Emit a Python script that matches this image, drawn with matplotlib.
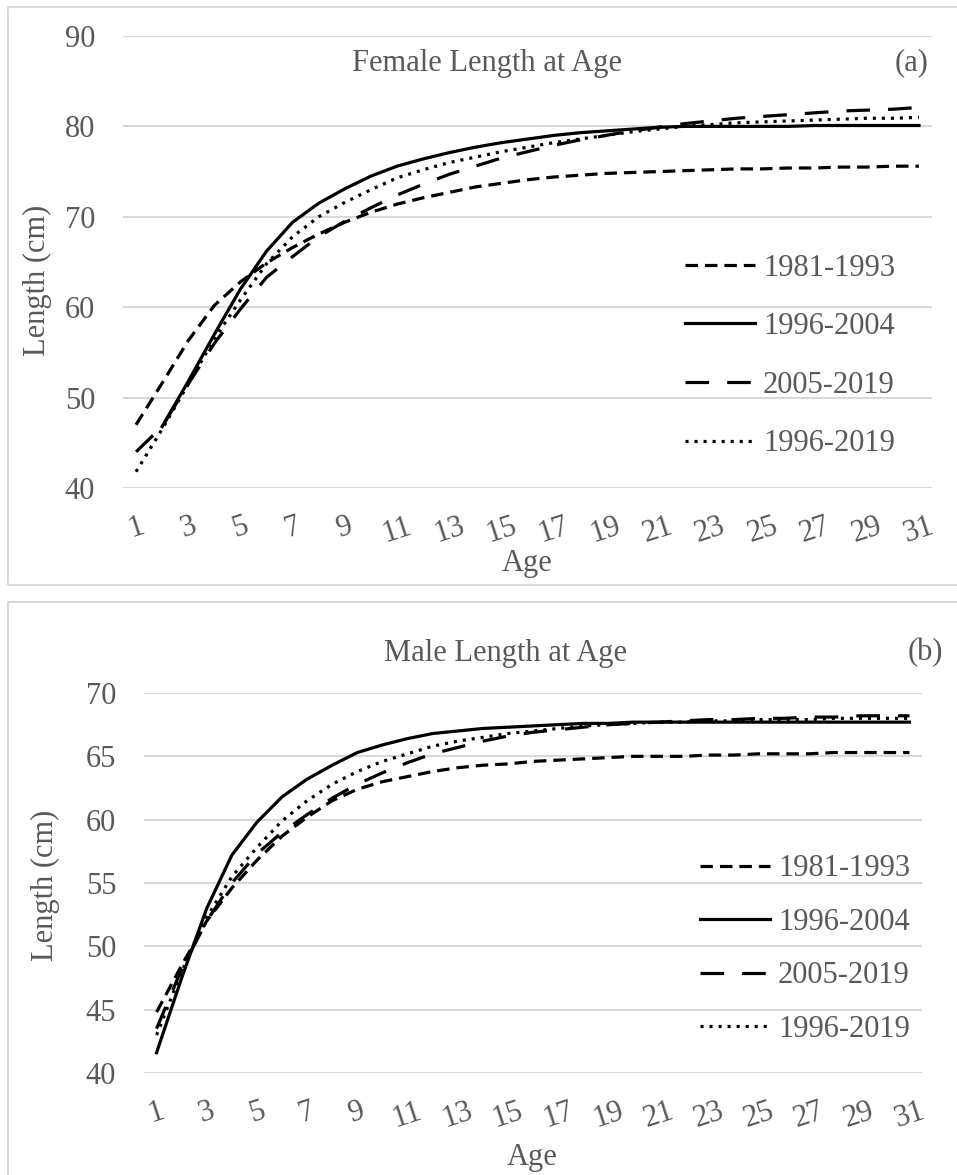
import numpy as np
import matplotlib
matplotlib.use('Agg')
import matplotlib.pyplot as plt
from matplotlib.patches import Rectangle

# Length at age curves
ages = list(range(1, 32))
series_labels = ['1981-1993', '1996-2004', '2005-2019', '1996-2019']

female_1981_1993 = [47.0, 51.6, 56.3, 60.2, 62.8, 64.9, 66.6, 68.1, 69.4, 70.5, 71.4, 72.1, 72.7, 73.3,
                    73.7, 74.1, 74.4, 74.6, 74.8, 74.9, 75.0, 75.1, 75.2, 75.3, 75.3, 75.4, 75.4, 75.5,
                    75.5, 75.6, 75.6]
female_1996_2004 = [np.nan, 46.8, 51.8, 57.0, 62.0, 66.2, 69.4, 71.5, 73.1, 74.5, 75.6, 76.4, 77.1, 77.7,
                    78.2, 78.6, 79.0, 79.3, 79.5, 79.7, 79.9, 80.0, 80.0, 80.0, 80.0, 80.0, 80.1, 80.1,
                    80.1, 80.1, 80.1]
female_2005_2019 = [44.0, 46.8, 51.5, 56.0, 59.8, 63.3, 65.6, 67.8, 69.5, 71.0, 72.4, 73.6, 74.7, 75.6,
                    76.5, 77.2, 77.9, 78.5, 79.0, 79.5, 79.9, 80.3, 80.6, 80.9, 81.1, 81.3, 81.5, 81.7,
                    81.8, 81.9, 82.1]
female_1996_2019 = [41.8, 46.5, 51.5, 56.5, 60.8, 64.8, 67.8, 70.0, 71.6, 73.0, 74.3, 75.2, 76.0, 76.6,
                    77.2, 77.7, 78.2, 78.6, 79.0, 79.4, 79.7, 80.0, 80.2, 80.4, 80.5, 80.6, 80.7, 80.8,
                    80.9, 80.9, 81.0]

male_1981_1993 = [44.8, 48.5, 52.0, 54.6, 56.8, 58.7, 60.2, 61.5, 62.4, 63.0, 63.4, 63.8, 64.1, 64.3,
                  64.4, 64.6, 64.7, 64.8, 64.9, 65.0, 65.0, 65.0, 65.1, 65.1, 65.2, 65.2, 65.2, 65.3,
                  65.3, 65.3, 65.3]
male_1996_2004 = [41.6, 47.5, 53.0, 57.2, 59.8, 61.8, 63.2, 64.3, 65.3, 65.9, 66.4, 66.8, 67.0, 67.2,
                  67.3, 67.4, 67.5, 67.6, 67.6, 67.7, 67.7, 67.7, 67.7, 67.7, 67.7, 67.7, 67.7, 67.7,
                  67.7, 67.7, 67.7]
male_2005_2019 = [43.5, 48.2, 52.0, 55.0, 57.3, 59.0, 60.4, 61.7, 62.8, 63.7, 64.5, 65.2, 65.7, 66.2,
                  66.6, 66.9, 67.1, 67.3, 67.5, 67.6, 67.7, 67.8, 67.9, 67.9, 68.0, 68.0, 68.1, 68.1,
                  68.2, 68.2, 68.2]
male_1996_2019 = [43.0, 48.0, 52.3, 55.5, 57.8, 59.9, 61.5, 62.8, 63.8, 64.6, 65.2, 65.8, 66.2, 66.5,
                  66.8, 67.0, 67.2, 67.4, 67.5, 67.6, 67.7, 67.7, 67.8, 67.8, 67.9, 67.9, 67.9, 68.0,
                  68.0, 68.0, 68.0]

plt.rcParams['font.family'] = ['Liberation Serif', 'DejaVu Serif']
plt.rcParams['lines.scale_dashes'] = False

TEXT = '#595959'
GRID = '#d9d9d9'
FS = 22
W, H = 957, 1175

# line styles in the same order as series_labels
styles = [dict(ls=(0, (9, 5)), lw=2.3),
          dict(ls='-', lw=2.3),
          dict(ls=(0, (17, 13)), lw=2.3),
          dict(ls=(0, (2.2, 4.3)), lw=2.3)]

fig = plt.figure(figsize=(W / 100, H / 100), dpi=100)

# grey frames around each panel (pixel coords from the top)
fig.add_artist(Rectangle((8 / W, 1 - 585 / H), 1.0, (585 - 7) / H, transform=fig.transFigure,
                         fill=False, ec=GRID, lw=1.5))
fig.add_artist(Rectangle((8 / W, 1 - 1190 / H), 1.0, (1190 - 602) / H, transform=fig.transFigure,
                         fill=False, ec=GRID, lw=1.5))


def panel(rect, data, ylim, yticks, title, title_xy, tag, tag_xy, ylab_xy, xlab_xy, leg_xy, leg_space):
    ax = fig.add_axes(rect)
    for vals, lab, st in zip(data, series_labels, styles):
        ax.plot(ages, vals, color='black', label=lab, **st)
    ax.set_xlim(0.5, 31.5)
    ax.set_ylim(*ylim)
    ax.set_xticks(ages[::2])
    ax.set_yticks(yticks)
    for s in ax.spines.values():
        s.set_visible(False)
    ax.yaxis.grid(True, color=GRID, lw=1.5)
    ax.set_axisbelow(True)
    ax.tick_params(axis='both', length=0, labelsize=FS, colors=TEXT)
    ax.tick_params(axis='x', pad=17, labelrotation=18)
    ax.tick_params(axis='y', pad=20)

    fig.text(title_xy[0] / W, 1 - title_xy[1] / H, title, ha='center', va='center', fontsize=FS, color=TEXT)
    fig.text(tag_xy[0] / W, 1 - tag_xy[1] / H, tag, ha='right', va='center', fontsize=FS, color=TEXT)
    fig.text(ylab_xy[0] / W, 1 - ylab_xy[1] / H, 'Length (cm)', rotation=90, ha='center', va='center',
             fontsize=FS, color=TEXT)
    fig.text(xlab_xy[0] / W, 1 - xlab_xy[1] / H, 'Age', ha='center', va='center', fontsize=FS, color=TEXT)

    leg = ax.legend(loc='center left', bbox_to_anchor=(leg_xy[0] / W, 1 - leg_xy[1] / H),
                    bbox_transform=fig.transFigure, frameon=False, fontsize=FS, handlelength=2.3,
                    handletextpad=0.25, labelspacing=leg_space, borderpad=0, borderaxespad=0)
    for t in leg.get_texts():
        t.set_color(TEXT)
    return ax


panel([123 / W, 1 - 488 / H, (932 - 123) / W, (488 - 36) / H],
      [female_1981_1993, female_1996_2004, female_2005_2019, female_1996_2019],
      (40, 90), range(40, 91, 10), 'Female Length at Age', (487, 63), '(a)', (928, 63),
      (37, 280), (527, 563), (685, 356), 0.97)

panel([144 / W, 1 - 1073 / H, (922 - 144) / W, (1073 - 693) / H],
      [male_1981_1993, male_1996_2004, male_2005_2019, male_1996_2019],
      (40, 70), range(40, 71, 5), 'Male Length at Age', (505, 653), '(b)', (943, 653),
      (45, 885), (532, 1158), (700, 949), 0.8)

fig.savefig('out.png', dpi=100)
